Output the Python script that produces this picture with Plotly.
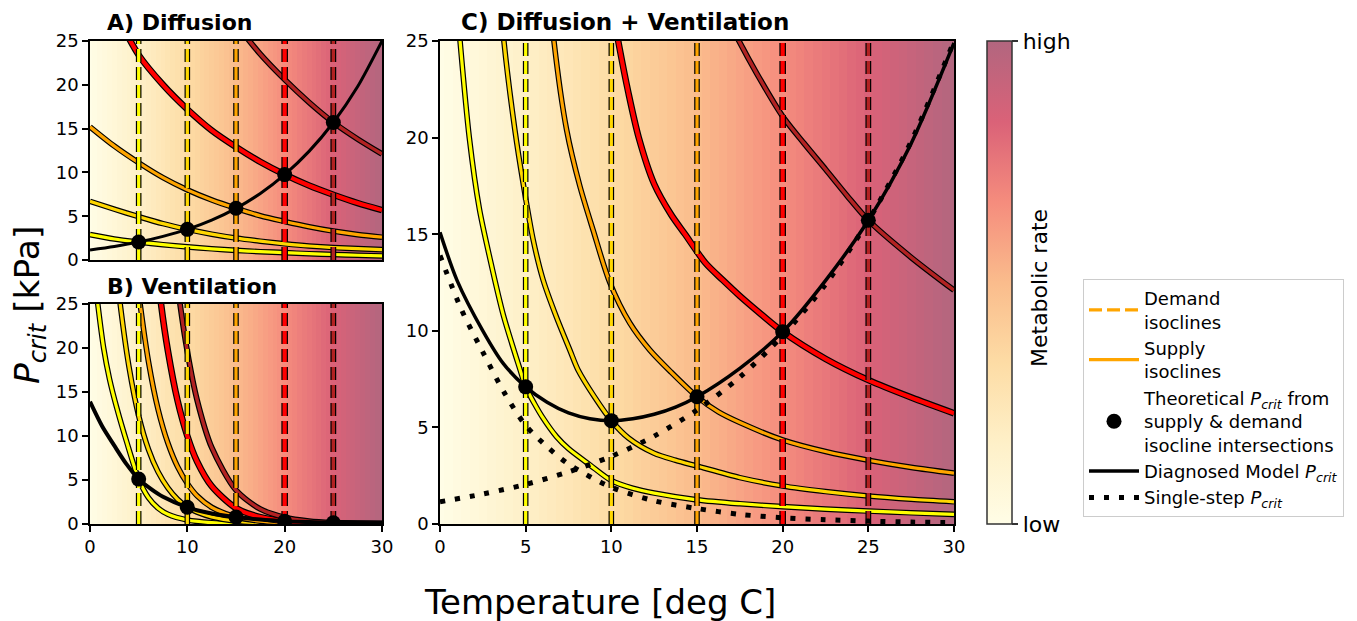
import plotly.graph_objects as go

# ---------------- data ----------------
demand_T = [5, 10, 15, 20, 25]
iso_colors = ["#FFFF00", "#FFD700", "#FFA500", "#FF0000", "#B22222"]
iso_width = [3.2, 3.2, 3.2, 4.2, 3.4]

# Panel A: diffusion
T_A = [0, 2.5, 5, 7.5, 10, 12.5, 15, 17.5, 20, 22.5, 25, 27.5, 30]
supplyA_yellow = [2.9, 2.4, 2.05, 1.75, 1.5, 1.28, 1.1, 0.95, 0.84, 0.72, 0.63, 0.54, 0.46]
supplyA_gold = [6.7, 5.8, 4.95, 4.15, 3.5, 2.95, 2.5, 2.15, 1.85, 1.6, 1.42, 1.3, 1.18]
supplyA_orange = [15.2, 13.0, 11.1, 9.4, 8.0, 6.85, 5.9, 5.05, 4.4, 3.8, 3.3, 2.9, 2.6]
supplyA_red = [34, 28.5, 23.4, 20.0, 17.2, 14.8, 12.9, 11.2, 9.75, 8.5, 7.45, 6.5, 5.7]
supplyA_brown = [62, 54, 47, 41, 35.5, 31, 27, 23.5, 20.6, 18.0, 15.7, 13.8, 12.1]
pcrit_diffusion = [1.15, 1.55, 2.05, 2.7, 3.5, 4.55, 5.9, 7.6, 9.75, 12.4, 15.7, 19.8, 25.0]
dotsA = [2.05, 3.5, 5.9, 9.75, 15.7]

# Panel B: ventilation
T_V = [0, 1.25, 2.5, 3.75, 5, 6.25, 7.5, 10, 12.5, 15, 17.5, 20, 22.5, 25, 27.5, 30]
pcrit_ventilation = [13.9, 11.1, 8.9, 6.8, 5.1, 4.0, 3.1, 1.9, 1.2, 0.8, 0.5, 0.32, 0.22, 0.15, 0.1, 0.07]
dotsB = [5.1, 1.9, 0.8, 0.32, 0.15]

supplyB_yellow_T = [0.3, 0.8, 1.4, 2.0, 2.75, 3.75, 5, 6, 7, 8, 10, 12.5, 15, 20, 30]
supplyB_yellow = [30, 25, 20, 16.5, 13.2, 9.4, 5.1, 3.0, 1.8, 1.1, 0.45, 0.15, 0.06, 0.02, 0.01]
supplyB_gold_T = [2.6, 3.1, 4, 5, 6, 7, 8, 9, 10, 11, 12.5, 15, 20, 30]
supplyB_gold = [30, 25, 17.9, 12.3, 8.5, 5.9, 4.1, 2.8, 1.9, 1.35, 0.8, 0.32, 0.05, 0.01]
supplyB_orange_T = [4.6, 5.15, 6, 7, 8, 9, 10, 11, 12.5, 15, 17.5, 20, 25, 30]
supplyB_orange = [30, 25, 18.5, 13, 9.2, 6.5, 4.6, 3.2, 1.9, 0.8, 0.33, 0.14, 0.03, 0.01]
supplyB_red_T = [6.8, 7.3, 8, 9, 10, 11, 12.5, 15, 17.5, 20, 22.5, 25, 30]
supplyB_red = [30, 25, 19.7, 14, 10, 7.1, 4.3, 1.8, 0.78, 0.32, 0.15, 0.07, 0.02]
supplyB_brown_T = [8.7, 9.25, 10, 11, 12.5, 15, 17.5, 20, 22.5, 25, 27.5, 30]
supplyB_brown = [30, 25, 19.6, 14.1, 8.7, 3.85, 1.7, 0.76, 0.33, 0.15, 0.07, 0.03]

# Panel C: diffusion + ventilation
supplyC_yellow_T = [0.9, 1.17, 1.71, 2.3, 2.9, 3.7, 4.67, 5.0, 5.5, 6.0, 6.8, 7.5, 8.75, 10,
                    11.25, 12.5, 15, 17.5, 20, 22.5, 25, 27.5, 30]
supplyC_yellow = [28, 25, 20, 16.3, 13.8, 10.8, 8.0, 7.1, 6.25, 5.5, 4.52, 3.9, 3.06, 2.25,
                  1.85, 1.6, 1.25, 1.05, 0.9, 0.77, 0.67, 0.58, 0.5]
supplyC_gold_T = [3.5, 3.73, 4.37, 4.86, 5.44, 6.02, 6.8, 7.58, 8.06, 9.0, 10, 11, 12.5, 13.75,
                  15, 17.5, 20, 22.5, 25, 27.5, 30]
supplyC_gold = [27.5, 25, 20.4, 17.6, 14.7, 12.63, 10.7, 9.0, 7.97, 6.6, 5.35, 4.45, 3.66, 3.3,
                3.0, 2.4, 1.97, 1.68, 1.45, 1.28, 1.15]
supplyC_orange_T = [6.4, 6.65, 7.39, 8.16, 8.94, 9.91, 11.08, 12.25, 13.5, 15, 16.25, 17.5, 20,
                    22.5, 25, 27.5, 30]
supplyC_orange = [27.5, 25, 20.4, 17.5, 15.2, 12.5, 10.4, 9.0, 7.85, 6.59, 5.8, 5.25, 4.35,
                  3.75, 3.3, 2.93, 2.63]
supplyC_red_T = [10.0, 10.4, 11.0, 11.6, 12.5, 13.5, 14.3, 15.5, 16.5, 17.5, 18.75, 20, 22.5,
                 25, 27.5, 30]
supplyC_red = [27, 25, 22.3, 20, 17.6, 16.0, 15.0, 13.5, 12.63, 11.8, 10.85, 9.95, 8.55, 7.45,
               6.55, 5.73]
supplyC_brown_T = [17.0, 17.45, 18.5, 20, 21.25, 22.5, 23.75, 25, 27.5, 30]
supplyC_brown = [25.8, 25.0, 23.3, 21.1, 19.7, 18.36, 17.0, 15.72, 13.8, 12.1]
pcritC_T = [0, 1, 2.5, 3.7, 5, 6.25, 7.5, 8.75, 10, 11.25, 12.5, 13.75, 15, 17.5, 20, 22.5,
            25, 27.5, 30]
pcritC_model = [15.1, 12.6, 10.0, 8.3, 7.1, 6.3, 5.75, 5.45, 5.35, 5.45, 5.68, 6.05, 6.59, 8.06,
                9.95, 12.6, 15.72, 19.7, 24.9]
dotsC = [7.1, 5.35, 6.59, 9.95, 15.72]

# background temperature grid and metabolic colour scale
bg_T = [i * 0.5 for i in range(61)]
metab_scale = [[0.0, "#FFFDE6"], [0.167, "#FEF0C8"], [0.333, "#FDDCA5"], [0.5, "#FABC8C"],
               [0.667, "#F58C7D"], [0.833, "#DA6278"], [1.0, "#B2667F"]]

P_MAX = 25
T_MAX = 30

# ---------------- figure ----------------
W, H = 1357, 621
FONT = "DejaVu Sans"


def fx(p):
    return p / W


def fy(p):
    return 1 - p / H


fig = go.Figure()

panels = {
    "A": ("x", "y"),
    "B": ("x2", "y2"),
    "C": ("x3", "y3"),
}

# backgrounds
for key, (xa, ya) in panels.items():
    show = key == "C"
    fig.add_trace(go.Heatmap(
        x=bg_T, y=[0, P_MAX], z=[bg_T, bg_T], colorscale=metab_scale, zmin=0, zmax=T_MAX,
        showscale=show, xaxis=xa, yaxis=ya, hoverinfo="skip",
        colorbar=dict(
            x=fx(987), xanchor="left", xpad=0, y=fy(524), yanchor="bottom", ypad=0,
            len=(524 - 41) / H, lenmode="fraction", thickness=25, thicknessmode="pixels",
            outlinecolor="#333333", outlinewidth=1.5,
            tickvals=[0, T_MAX], ticktext=["low", "high"], ticks="outside", ticklen=6,
            tickwidth=1.5, tickcolor="#333333",
            tickfont=dict(size=22, family=FONT, color="black"),
        ) if show else None,
    ))


def outlined(T, P, color, width, xa, ya, dash=None, shape="spline", name=None,
             legend=False, rank=None, edge=2.4):
    fig.add_trace(go.Scatter(
        x=T, y=P, mode="lines", xaxis=xa, yaxis=ya, showlegend=False, hoverinfo="skip",
        line=dict(color="black", width=width + edge, dash=dash, shape=shape, smoothing=0.8)))
    fig.add_trace(go.Scatter(
        x=T, y=P, mode="lines", xaxis=xa, yaxis=ya, showlegend=legend, name=name,
        legendrank=rank, hoverinfo="skip",
        line=dict(color=color, width=width, dash=dash, shape=shape, smoothing=0.8)))


DASH = "13px,5px"

# ----- Panel A -----
xa, ya = panels["A"]
for P, c, w in zip([supplyA_yellow, supplyA_gold, supplyA_orange, supplyA_red, supplyA_brown],
                   iso_colors, iso_width):
    outlined(T_A, P, c, w, xa, ya)
for t, c, w in zip(demand_T, iso_colors, iso_width):
    outlined([t, t], [0, P_MAX], c, w, xa, ya, dash=DASH, shape="linear")
fig.add_trace(go.Scatter(x=T_A, y=pcrit_diffusion, mode="lines", xaxis=xa, yaxis=ya,
                         line=dict(color="black", width=3, shape="spline", smoothing=0.8),
                         showlegend=False, hoverinfo="skip"))
fig.add_trace(go.Scatter(x=demand_T, y=dotsA, mode="markers", xaxis=xa, yaxis=ya,
                         marker=dict(color="black", size=15), showlegend=False, hoverinfo="skip"))

# ----- Panel B -----
xa, ya = panels["B"]
for T, P, c, w in zip([supplyB_yellow_T, supplyB_gold_T, supplyB_orange_T, supplyB_red_T, supplyB_brown_T],
                      [supplyB_yellow, supplyB_gold, supplyB_orange, supplyB_red, supplyB_brown],
                      iso_colors, iso_width):
    outlined(T, P, c, w, xa, ya)
for t, c, w in zip(demand_T, iso_colors, iso_width):
    outlined([t, t], [0, P_MAX], c, w, xa, ya, dash=DASH, shape="linear")
fig.add_trace(go.Scatter(x=T_V, y=pcrit_ventilation, mode="lines", xaxis=xa, yaxis=ya,
                         line=dict(color="black", width=4, shape="spline", smoothing=0.8),
                         showlegend=False, hoverinfo="skip"))
fig.add_trace(go.Scatter(x=demand_T, y=dotsB, mode="markers", xaxis=xa, yaxis=ya,
                         marker=dict(color="black", size=15), showlegend=False, hoverinfo="skip"))

# ----- Panel C -----
xa, ya = panels["C"]
supC_T = [supplyC_yellow_T, supplyC_gold_T, supplyC_orange_T, supplyC_red_T, supplyC_brown_T]
supC_P = [supplyC_yellow, supplyC_gold, supplyC_orange, supplyC_red, supplyC_brown]
for i, (T, P, c, w) in enumerate(zip(supC_T, supC_P, iso_colors, iso_width)):
    is_leg = i == 2
    outlined(T, P, c, w, xa, ya, name="Supply<br>isoclines", legend=is_leg, rank=2)
for i, (t, c, w) in enumerate(zip(demand_T, iso_colors, iso_width)):
    is_leg = i == 2
    outlined([t, t], [0, P_MAX], c, w, xa, ya, dash=DASH, shape="linear",
             name="Demand<br>isoclines", legend=is_leg, rank=1)

PCRIT = "<i>P</i><sub><i>crit</i></sub>"
fig.add_trace(go.Scatter(x=T_A, y=pcrit_diffusion, mode="lines", xaxis=xa, yaxis=ya,
                         line=dict(color="black", width=5, dash="5px,10px", shape="spline",
                                   smoothing=0.8),
                         name="Single-step " + PCRIT, showlegend=True, legendrank=5,
                         hoverinfo="skip"))
fig.add_trace(go.Scatter(x=T_V, y=pcrit_ventilation, mode="lines", xaxis=xa, yaxis=ya,
                         line=dict(color="black", width=5, dash="5px,10px", shape="spline",
                                   smoothing=0.8),
                         showlegend=False, hoverinfo="skip"))
fig.add_trace(go.Scatter(x=pcritC_T, y=pcritC_model, mode="lines", xaxis=xa, yaxis=ya,
                         line=dict(color="black", width=3.5, shape="spline", smoothing=0.8),
                         name="Diagnosed Model " + PCRIT, showlegend=True, legendrank=4,
                         hoverinfo="skip"))
fig.add_trace(go.Scatter(x=demand_T, y=dotsC, mode="markers", xaxis=xa, yaxis=ya,
                         marker=dict(color="black", size=15),
                         name="Theoretical " + PCRIT + " from<br>supply &amp; demand<br>isocline intersections",
                         showlegend=True, legendrank=3, hoverinfo="skip"))

# ---------------- axes ----------------
base = dict(showgrid=False, zeroline=False, showline=True, linecolor="black", linewidth=1.5,
            mirror=True, ticks="outside", ticklen=6, tickwidth=1.5, tickcolor="black",
            tickfont=dict(size=18, family=FONT, color="black"), automargin=False)

xdomA = [fx(90), fx(382)]
xdomC = [fx(440), fx(954)]
fig.update_layout(
    xaxis=dict(base, domain=xdomA, range=[0, T_MAX], anchor="y", showticklabels=False, ticks=""),
    yaxis=dict(base, domain=[fy(260), fy(41)], range=[0, P_MAX], anchor="x",
               tickvals=[0, 5, 10, 15, 20, 25]),
    xaxis2=dict(base, domain=xdomA, range=[0, T_MAX], anchor="y2", tickvals=[0, 10, 20, 30]),
    yaxis2=dict(base, domain=[fy(524), fy(304)], range=[0, P_MAX], anchor="x2",
                tickvals=[0, 5, 10, 15, 20, 25]),
    xaxis3=dict(base, domain=xdomC, range=[0, T_MAX], anchor="y3",
                tickvals=[0, 5, 10, 15, 20, 25, 30]),
    yaxis3=dict(base, domain=[fy(524), fy(41)], range=[0, P_MAX], anchor="x3",
                tickvals=[0, 5, 10, 15, 20, 25]),
)

annotations = [
    dict(text="<b>A) Diffusion</b>", x=fx(105), y=fy(22), xanchor="left", yanchor="middle",
         font=dict(size=22)),
    dict(text="<b>B) Ventilation</b>", x=fx(105), y=fy(286), xanchor="left", yanchor="middle",
         font=dict(size=22)),
    dict(text="<b>C) Diffusion + Ventilation</b>", x=fx(459), y=fy(22), xanchor="left",
         yanchor="middle", font=dict(size=23)),
    dict(text=PCRIT + " [kPa]", x=fx(29), y=fy(305), xanchor="center", yanchor="middle",
         textangle=-90, font=dict(size=34.5)),
    dict(text="Temperature [deg C]", x=fx(600), y=fy(602), xanchor="center", yanchor="middle",
         font=dict(size=34)),
    dict(text="Metabolic rate", x=fx(1039), y=fy(288), xanchor="center", yanchor="middle",
         textangle=-90, font=dict(size=22)),
]
for a in annotations:
    a.update(xref="paper", yref="paper", showarrow=False)
    a["font"].update(family=FONT, color="black")

fig.update_layout(
    template="none",
    width=W, height=H,
    margin=dict(l=0, r=0, t=0, b=0),
    paper_bgcolor="white", plot_bgcolor="white",
    font=dict(family=FONT, color="black"),
    annotations=annotations,
    showlegend=True,
    legend=dict(x=fx(1083), y=fy(279), xanchor="left", yanchor="top",
                bgcolor="white", bordercolor="#cccccc", borderwidth=1,
                font=dict(size=18, family=FONT, color="black"),
                tracegroupgap=2, itemwidth=50, valign="middle"),
)

fig.write_html("out.html")
